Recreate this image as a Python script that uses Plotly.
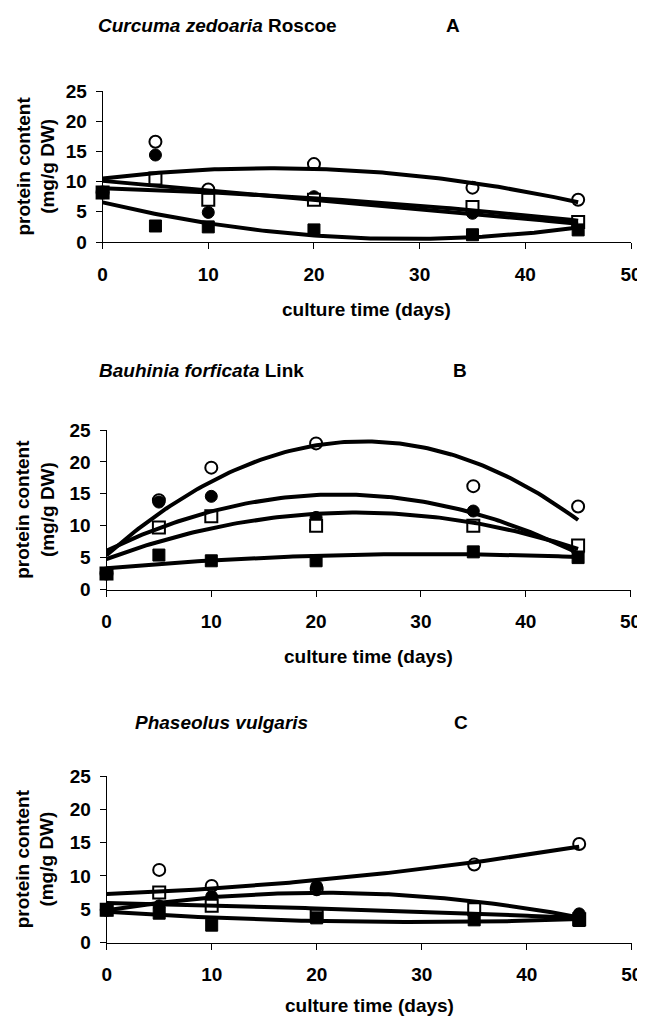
import numpy as np
import plotly.graph_objects as go

# ---------------- data ----------------
days = [0, 5, 10, 20, 35, 45]

# Panel A - Curcuma zedoaria
a_open_circle = [8.2, 16.6, 8.7, 12.9, 9.0, 7.0]
a_filled_circle = [8.2, 14.4, 4.9, 7.5, 4.75, 3.0]
a_open_square = [8.2, 10.5, 7.0, 7.0, 5.8, 3.3]
a_filled_square = [8.2, 2.65, 2.5, 2.0, 1.2, 2.0]

# Panel B - Bauhinia forficata
b_open_circle = [2.5, 14.0, 19.1, 22.9, 16.2, 13.0]
b_filled_circle = [2.5, 13.7, 14.6, 11.3, 12.3, 6.0]
b_open_square = [2.5, 9.7, 11.5, 10.0, 10.0, 6.9]
b_filled_square = [2.5, 5.4, 4.5, 4.5, 5.9, 5.0]

# Panel C - Phaseolus vulgaris
c_open_circle = [4.9, 10.9, 8.5, 8.0, 11.7, 14.8]
c_filled_circle = [4.9, 5.5, 6.9, 8.4, 5.0, 4.3]
c_open_square = [4.9, 7.5, 5.5, 4.0, 5.0, 3.5]
c_filled_square = [4.9, 4.4, 2.6, 3.7, 3.4, 3.3]

species = ["Curcuma zedoaria", "Bauhinia forficata", "Phaseolus vulgaris"]
authors = ["Roscoe", "Link", ""]
letters = ["A", "B", "C"]
x_ticks = [0, 10, 20, 30, 40, 50]
y_ticks = [0, 5, 10, 15, 20, 25]
x_title = "culture time (days)"
y_title = "protein content<br>(mg/g DW)"

panels = [
    [a_open_circle, a_filled_circle, a_open_square, a_filled_square],
    [b_open_circle, b_filled_circle, b_open_square, b_filled_square],
    [c_open_circle, c_filled_circle, c_open_square, c_filled_square],
]

# ---------------- layout geometry (page pixels) ----------------
W, H = 645, 1018
OFF = 8  # default body margin of the html page
FW, FH = W - OFF, H - OFF
x_left = [102.6, 106.5, 106.7]
x_right = [631.0, 630.5, 631.7]
y_bottom = [242.0, 589.5, 942.5]
y_top = [91.0, 430.0, 776.0]
title_y = [25, 370, 722]
title_x = [96, 97, 133]
letter_x = [444, 451, 452]
xtitle_y = [309, 656, 1005]

FONT = "Liberation Sans, Arial, sans-serif"
marker_styles = [
    dict(symbol="circle", color="white", size=12, line=dict(color="black", width=2)),
    dict(symbol="circle", color="black", size=12, line=dict(color="black", width=1)),
    dict(symbol="square", color="white", size=12, line=dict(color="black", width=2)),
    dict(symbol="square", color="black", size=12, line=dict(color="black", width=1)),
]


def px(x):
    return (x - OFF) / FW


def py(y):
    return 1 - (y - OFF) / FH


fig = go.Figure()
annotations = []
for i, series in enumerate(panels):
    xa = "x" if i == 0 else f"x{i+1}"
    ya = "y" if i == 0 else f"y{i+1}"
    for s, vals in enumerate(series):
        fig.add_trace(go.Scatter(x=days, y=vals, mode="markers", marker=marker_styles[s],
                                 xaxis=xa, yaxis=ya, cliponaxis=False, showlegend=False,
                                 hoverinfo="x+y"))
    # polynomial (order 2) trend lines fitted to each series
    for s, vals in enumerate(series):
        coef = np.polyfit(days, vals, 2)
        xs = np.linspace(0, 45, 120)
        fig.add_trace(go.Scatter(x=xs, y=np.polyval(coef, xs), mode="lines",
                                 line=dict(color="black", width=4),
                                 xaxis=xa, yaxis=ya, cliponaxis=True, showlegend=False,
                                 hoverinfo="skip"))

    ax_common = dict(showline=True, linecolor="black", linewidth=1, ticks="outside",
                     ticklen=6, tickwidth=1, tickcolor="black", showgrid=False,
                     zeroline=False, automargin=False,
                     tickfont=dict(family=FONT, size=19, color="black", weight="bold"))
    xkey = "xaxis" if i == 0 else f"xaxis{i+1}"
    ykey = "yaxis" if i == 0 else f"yaxis{i+1}"
    fig.update_layout({
        xkey: dict(ax_common, domain=[px(x_left[i]), px(x_right[i])], range=[0, 50],
                   tickvals=x_ticks, anchor=ya, ticklabelstandoff=9),
        ykey: dict(ax_common, domain=[py(y_bottom[i]), py(y_top[i])], range=[0, 25],
                   tickvals=y_ticks, anchor=xa, ticklabelstandoff=5),
    })

    title_txt = f"<b><i>{species[i]}</i></b>"
    if authors[i]:
        title_txt += f"<b> {authors[i]}</b>"
    annotations += [
        dict(text=title_txt, x=px(title_x[i]), y=py(title_y[i]), xref="paper", yref="paper",
             xanchor="left", yanchor="middle", showarrow=False,
             font=dict(family=FONT, size=19, color="black")),
        dict(text=f"<b>{letters[i]}</b>", x=px(letter_x[i]), y=py(title_y[i]), xref="paper",
             yref="paper", xanchor="left", yanchor="middle", showarrow=False,
             font=dict(family=FONT, size=19, color="black")),
        dict(text=f"<b>{x_title}</b>", x=px((x_left[i] + x_right[i]) / 2), y=py(xtitle_y[i]),
             xref="paper", yref="paper", xanchor="center", yanchor="middle", showarrow=False,
             font=dict(family=FONT, size=19, color="black")),
        dict(text=f"<b>{y_title}</b>", x=px(35), y=py((y_top[i] + y_bottom[i]) / 2),
             xref="paper", yref="paper", xanchor="center", yanchor="middle", showarrow=False,
             textangle=-90, font=dict(family=FONT, size=19, color="black")),
    ]

fig.update_layout(width=FW, height=FH, margin=dict(l=0, r=0, t=0, b=0),
                  paper_bgcolor="white", plot_bgcolor="white",
                  annotations=annotations, showlegend=False)

fig.write_html("out.html")
